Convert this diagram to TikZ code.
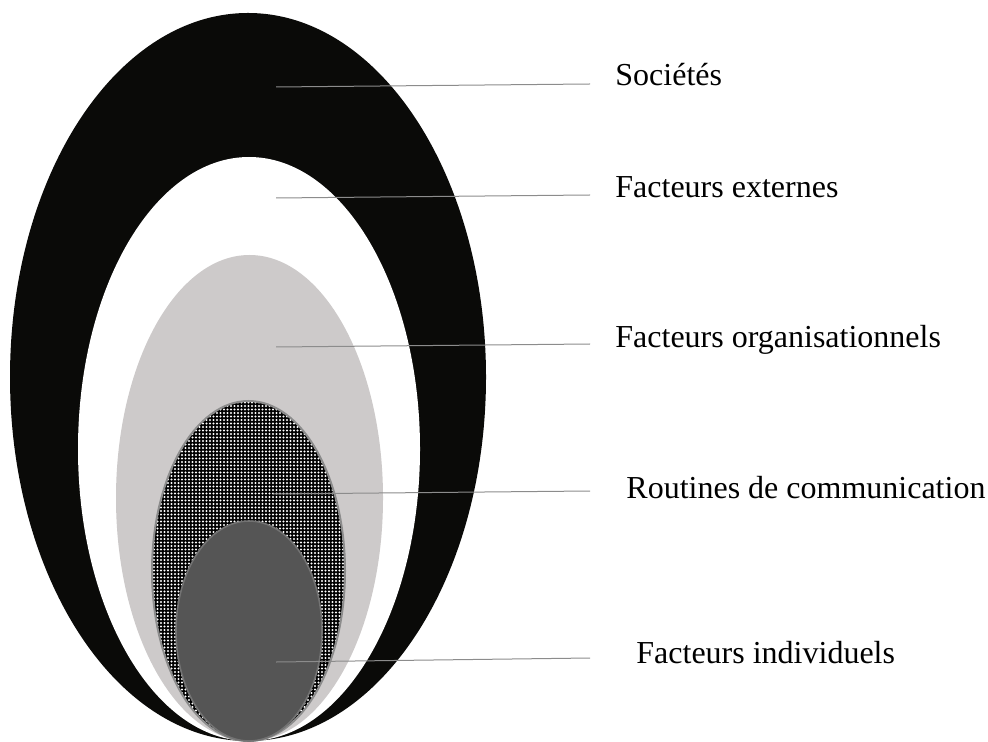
\documentclass[tikz,border=0pt]{standalone}
\usepackage{fontspec}
\setmainfont{Liberation Serif}
\usepackage{xcolor}
\usetikzlibrary{patterns.meta}
\definecolor{socblack}{HTML}{0A0A08}
\definecolor{orggray}{HTML}{CDCACA}
\definecolor{indgray}{HTML}{555555}
\definecolor{leadgray}{HTML}{8C8C8C}
\tikzstyle{levelname} = [anchor=base west, inner xsep=12.5pt, inner ysep=0pt, font=\fontsize{16}{19}\selectfont]
\tikzstyle{leader} = [draw=leadgray, line width=0.5pt]

\begin{document}
\begin{tikzpicture}[x=0.5pt, y=-0.5pt]
    \useasboundingbox (0,0) rectangle (988,742);
    % nested rings, outside in
    \fill[socblack] (248,377) ellipse [x radius=238, y radius=364];
    \fill[white] (249,449) ellipse [x radius=171, y radius=292];
    \fill[orggray] (249.5,498) ellipse [x radius=133.5, y radius=243];
    \fill[black] (248.5,571) ellipse [x radius=96.5, y radius=170];
    \fill[pattern={Dots[distance=1.75pt, radius=0.55pt]}, pattern color=white] (248.5,571) ellipse [x radius=96.5, y radius=170];
    \draw[gray!90, line width=1pt] (248.5,571) ellipse [x radius=96.5, y radius=170];
    \fill[indgray, draw=gray!110, line width=0.8pt] (249,631) ellipse [x radius=73, y radius=110];

    % labels
    \node[levelname] (soc) at (590,86) {Sociétés};
    \node[levelname] (ext) at (590,198) {Facteurs externes};
    \node[levelname] (org) at (590,348) {Facteurs organisationnels};
    \node[levelname, inner xsep=18pt] (rout) at (590,498) {Routines de communication};
    \node[levelname, inner xsep=23pt] (ind) at (590,663) {Facteurs individuels};

    \coordinate (socin) at (276,87);
    \coordinate (extin) at (276,198);
    \coordinate (orgin) at (276,347);
    \coordinate (routin) at (273,494);
    \coordinate (indin) at (276,662);

    \draw[leader] (socin) -- ([yshift=1pt]soc.base west);
    \draw[leader] (extin) -- ([yshift=1.5pt]ext.base west);
    \draw[leader] (orgin) -- ([yshift=2pt]org.base west);
    \draw[leader] (routin) -- ([yshift=3.5pt]rout.base west);
    \draw[leader] (indin) -- ([yshift=2.5pt]ind.base west);
\end{tikzpicture}
\end{document}
